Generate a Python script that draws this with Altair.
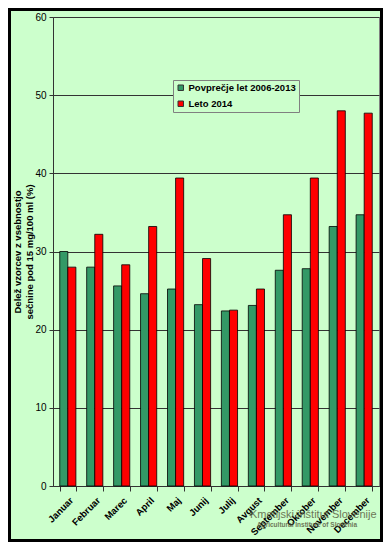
import altair as alt
import pandas as pd

months = ["Januar", "Februar", "Marec", "April", "Maj", "Junij", "Julij",
          "Avgust", "September", "Oktober", "November", "December"]
avg_2006_2013 = [30.0, 28.0, 25.6, 24.6, 25.2, 23.2, 22.4, 23.1, 27.6, 27.8, 33.2, 34.7]
leto_2014 = [28.0, 32.2, 28.3, 33.2, 39.4, 29.1, 22.5, 25.2, 34.7, 39.4, 48.0, 47.7]
series_names = ["Povprečje let 2006-2013", "Leto 2014"]
series_colors = ["#339966", "#FF0000"]
y_ticks = [0, 10, 20, 30, 40, 50, 60]

rows = []
for i, m in enumerate(months):
    rows.append({"mesec": m, "serija": series_names[0], "vrednost": avg_2006_2013[i]})
    rows.append({"mesec": m, "serija": series_names[1], "vrednost": leto_2014[i]})
df = pd.DataFrame(rows)

W, H = 326, 469
PL, PT, PR, PB = 45, 9, 4, 56
FONT = "Liberation Sans, Arial, sans-serif"

bars = alt.Chart(df).mark_bar(stroke="#000000", strokeWidth=0.8).encode(
    x=alt.X("mesec:N", sort=months,
            scale=alt.Scale(paddingInner=0.4, paddingOuter=0.25),
            axis=alt.Axis(title=None, labelAngle=-45, labelFontWeight="bold",
                          labelFontSize=9.5, labelFont=FONT, labelColor="#000000",
                          tickBand="extent", tickSize=5, tickColor="#333333",
                          domainColor="#333333", labelPadding=4, grid=False)),
    xOffset=alt.XOffset("serija:N", sort=series_names,
                        scale=alt.Scale(paddingInner=0, paddingOuter=0)),
    y=alt.Y("vrednost:Q",
            scale=alt.Scale(domain=[0, 60], nice=False),
            axis=alt.Axis(values=y_ticks,
                          title=["Delež vzorcev z vsebnostjo", "sečnine pod 15 mg/100 ml  (%)"],
                          titleFontSize=9.5, titleFontWeight="bold", titleFont=FONT,
                          titleColor="#000000", titleAngle=-90, titleX=-41, titleY=H / 2,
                          titleAlign="center", titleBaseline="top", titleLineHeight=12,
                          labelFontSize=10, labelFont=FONT, labelColor="#000000",
                          labelPadding=3, tickSize=4, tickColor="#333333",
                          domainColor="#333333", grid=True, gridColor="#333333",
                          gridWidth=1)),
    color=alt.Color("serija:N", sort=series_names,
                    scale=alt.Scale(domain=series_names, range=series_colors),
                    legend=alt.Legend(title=None, orient="none", legendX=120, legendY=63,
                                      direction="vertical", symbolType="square",
                                      symbolSize=30, symbolStrokeColor="#333333",
                                      symbolStrokeWidth=1, labelFontSize=9.5,
                                      labelFontWeight="bold", labelFont=FONT,
                                      labelColor="#000000", rowPadding=5, padding=3,
                                      labelOffset=3, strokeColor="#808080",
                                      fillColor="#CCFFCC")),
)

wm_text = ["Kmetijski inštitut Slovenije"]
wm_sub = ["Agricultural Institute of Slovenia"]

wm1 = alt.Chart(pd.DataFrame({"t": wm_text})).mark_text(
    align="left", baseline="alphabetic", fontSize=11,
    font="Liberation Sans, Arial, sans-serif",
    color="#55553a", opacity=0.8
).encode(x=alt.value(197), y=alt.value(501), text="t:N")

wm2 = alt.Chart(pd.DataFrame({"t": wm_sub})).mark_text(
    align="left", baseline="alphabetic", fontSize=6.5, fontWeight="bold",
    font=FONT, color="#55553a", opacity=0.8
).encode(x=alt.value(204), y=alt.value(510), text="t:N")

frame = alt.Chart(pd.DataFrame({"a": [1]})).mark_rect(
    fill=None, stroke="#000000", strokeWidth=3
).encode(x=alt.value(-PL + 1.5), x2=alt.value(W + PR - 1.5),
         y=alt.value(-PT + 1.5), y2=alt.value(H + PB - 1.5))

chart = alt.layer(bars, wm1, wm2, frame).properties(
    width=W, height=H,
    background="#CCFFCC",
    padding={"left": PL, "top": PT, "right": PR, "bottom": PB},
    autosize=alt.AutoSizeParams(type="none"),
).configure_view(stroke="#808080", strokeWidth=1)

chart.save("out.html", embed_options={"renderer": "svg", "actions": False})
